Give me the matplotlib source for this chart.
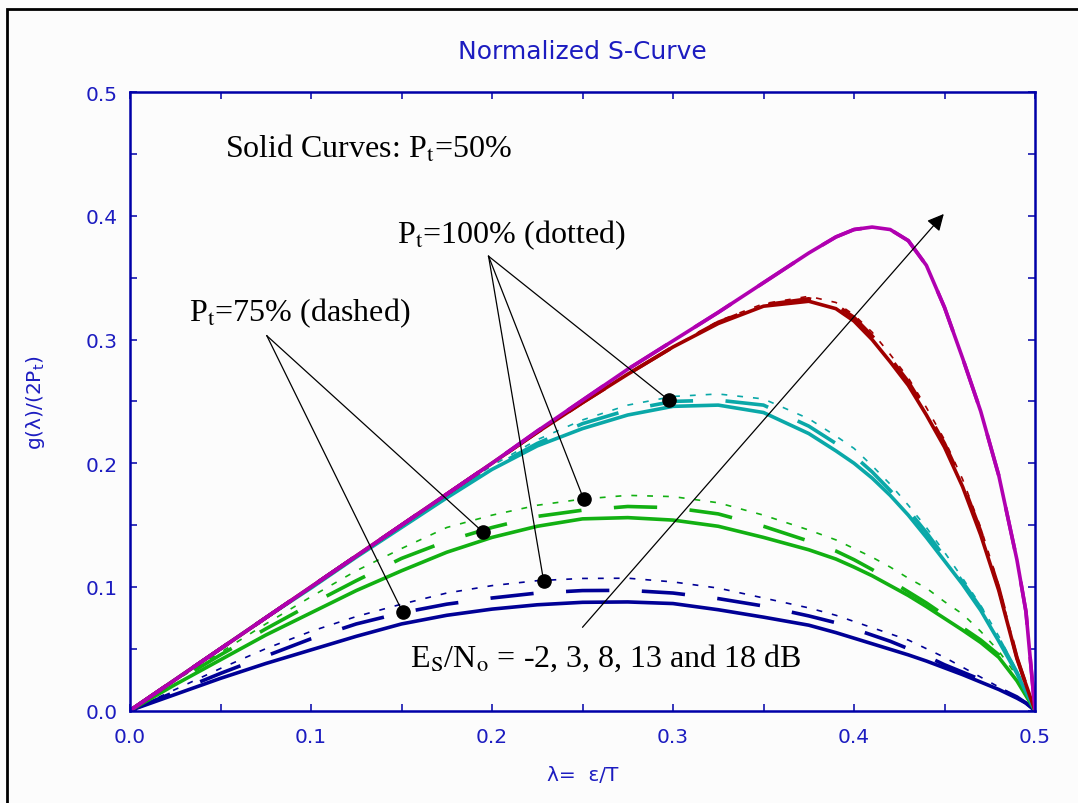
import matplotlib
matplotlib.use("Agg")
import matplotlib.pyplot as plt
from matplotlib.patches import Rectangle
from matplotlib.ticker import MultipleLocator

# normalized S-curve, lambda = eps/T
lam = [0, .025, .05, .075, .1, .125, .15, .175, .2, .225, .25, .275, .3, .325, .35,
       .375, .39, .4, .41, .42, .43, .44, .45, .46, .47, .48, .49, .495, .5]

# Es/No = -2 dB (blue)
blue_50 = [0, .013, .026, .038, .049, .060, .070, .077, .082, .0855, .0875, .0878, .0865, .0815, .0755,
           .069, .063, .0585, .054, .0495, .045, .040, .0345, .029, .023, .017, .010, .006, 0]
blue_75 = [0, .015, .030, .044, .058, .070, .079, .086, .091, .095, .097, .0972, .095, .0905, .0845,
           .0765, .071, .066, .061, .056, .050, .044, .037, .031, .025, .018, .011, .006, 0]
blue_100 = [0, .017, .034, .050, .064, .076, .086, .095, .101, .105, .1068, .107, .104, .099, .091,
            .083, .077, .072, .067, .062, .057, .050, .043, .035, .027, .019, .011, .006, 0]
# 3 dB (green)
green_50 = [0, .021, .041, .061, .079, .097, .113, .128, .140, .149, .155, .156, .154, .149, .140,
            .130, .1225, .116, .109, .101, .093, .084, .0745, .065, .055, .043, .024, .012, 0]
green_75 = [0, .023, .045, .066, .086, .105, .123, .137, .148, .157, .162, .165, .164, .159, .149,
            .137, .129, .122, .114, .105, .096, .087, .077, .067, .057, .045, .026, .013, 0]
green_100 = [0, .024, .047, .070, .092, .113, .131, .148, .158, .166, .171, .174, .173, .168, .158,
             .146, .138, .131, .124, .116, .107, .099, .088, .078, .064, .048, .028, .014, 0]
# 8 dB (cyan)
cyan_50 = [0, .025, .05, .075, .099, .124, .148, .172, .195, .214, .228, .239, .246, .247, .241,
           .224, .210, .200, .188, .174, .158, .140, .121, .102, .081, .056, .030, .015, 0]
cyan_75 = [0, .025, .05, .075, .1, .125, .149, .173, .196, .216, .232, .243, .250, .251, .247,
           .230, .216, .206, .193, .178, .162, .144, .124, .104, .083, .058, .031, .015, 0]
cyan_100 = [0, .025, .05, .075, .1, .125, .149, .174, .198, .219, .235, .247, .254, .256, .252,
            .236, .222, .212, .198, .183, .166, .148, .128, .107, .085, .060, .032, .016, 0]
# 13 dB (dark red)
red_50 = [0, .025, .05, .075, .1, .125, .15, .175, .2, .225, .249, .272, .294, .313, .327,
          .331, .325, .315, .300, .282, .263, .239, .213, .181, .142, .097, .042, .021, 0]
red_75 = [0, .025, .05, .075, .1, .125, .15, .175, .2, .225, .249, .272, .294, .314, .328,
          .333, .328, .318, .303, .285, .266, .242, .216, .184, .145, .099, .043, .021, 0]
red_100 = [0, .025, .05, .075, .1, .125, .15, .175, .2, .225, .249, .272, .294, .315, .329,
           .335, .330, .320, .306, .288, .269, .245, .219, .187, .148, .101, .044, .022, 0]
# 18 dB (magenta)
mag_50 = [0, .025, .05, .075, .1, .125, .15, .175, .2, .226, .251, .276, .299, .322, .346,
          .370, .383, .389, .391, .389, .380, .360, .326, .285, .242, .190, .122, .080, 0]

curves = [
    ("#000096", blue_50, blue_75, blue_100),
    ("#12b012", green_50, green_75, green_100),
    ("#0aa8a8", cyan_50, cyan_75, cyan_100),
    ("#a00000", red_50, red_75, red_100),
    ("#b000b0", mag_50, mag_50, mag_50),
]

axcol = "#0000a8"
txtcol = "#1c1cc0"

fig = plt.figure(figsize=(10.78, 8.04), dpi=100, facecolor="#fcfcfc")
ax = fig.add_axes([130/1078, 1-711.5/804, 905/1078, 618.2/804])
ax.set_facecolor("#fcfcfc")

for col, s50, s75, s100 in curves:
    l, = ax.plot(lam, s100, color=col, lw=1.2, solid_capstyle="butt")
    l.set_dashes([3.5, 6])
    l, = ax.plot(lam, s75, color=col, lw=2.6)
    l.set_dashes([12, 9])
    ax.plot(lam, s50, color=col, lw=2.6, solid_joinstyle="round")

ax.set_xlim(0, 0.5)
ax.set_ylim(0, 0.5)
ax.xaxis.set_major_locator(MultipleLocator(0.1))
ax.xaxis.set_minor_locator(MultipleLocator(0.05))
ax.yaxis.set_major_locator(MultipleLocator(0.1))
ax.yaxis.set_minor_locator(MultipleLocator(0.05))
ax.xaxis.set_major_formatter(plt.FormatStrFormatter("%.1f"))
ax.yaxis.set_major_formatter(plt.FormatStrFormatter("%.1f"))
ax.tick_params(which="both", direction="in", top=True, right=True, length=5,
               width=1.1, color=axcol, labelcolor=txtcol, labelsize=14.5)
ax.tick_params(axis="x", which="both", pad=12)
ax.tick_params(axis="y", which="both", pad=9)
for sp in ax.spines.values():
    sp.set_color(axcol)
    sp.set_linewidth(1.8)

ax.set_xlabel("λ=  ε/T", color=txtcol, fontsize=14.5)
ax.xaxis.set_label_coords(0.5, -0.088)
ax.set_ylabel(r"g(λ)/(2P$_\mathrm{t}$)", color=txtcol, fontsize=14.5)
ax.yaxis.set_label_coords(-0.092, 0.5)
ax.text(0.5, 1.067, "Normalized S-Curve", transform=ax.transAxes, ha="center",
        va="center", color=txtcol, fontsize=18)

# annotations
serif = dict(family="Liberation Serif", math_fontfamily="stix", fontsize=23, color="black")
ax.text(0.0525, 0.4482, r"Solid Curves: P$_\mathrm{t}$=50%", **serif)
ax.text(0.1474, 0.3787, r"P$_\mathrm{t}$=100% (dotted)", **serif)
ax.text(0.0328, 0.3153, r"P$_\mathrm{t}$=75% (dashed)", **serif)
ax.text(0.1548, 0.0362, r"E$_\mathrm{S}$/N$_\mathrm{o}$ = -2, 3, 8, 13 and 18 dB", **serif)

dotted_src = (0.1981, 0.3674)
dotted_pts = [(0.2976, 0.2511), (0.2506, 0.1711), (0.2285, 0.1050)]
dashed_src = (0.0756, 0.3031)
dashed_pts = [(0.1948, 0.1446), (0.1507, 0.0794)]
for src, pts in [(dotted_src, dotted_pts), (dashed_src, dashed_pts)]:
    for p in pts:
        ax.plot([src[0], p[0]], [src[1], p[1]], color="black", lw=0.9)
        ax.plot(p[0], p[1], "o", color="black", ms=9.5)

ax.annotate("", xy=(0.4496, 0.4016), xytext=(0.2500, 0.0673),
            arrowprops=dict(arrowstyle="-|>", color="black", lw=0.9,
                            mutation_scale=25, shrinkA=0, shrinkB=0))

fig.patches.append(Rectangle((7/1078, -0.05), 1.2, 1.05 - 10/804, transform=fig.transFigure,
                             fill=False, edgecolor="black", lw=2))

fig.savefig("out.png", dpi=100, facecolor=fig.get_facecolor())
